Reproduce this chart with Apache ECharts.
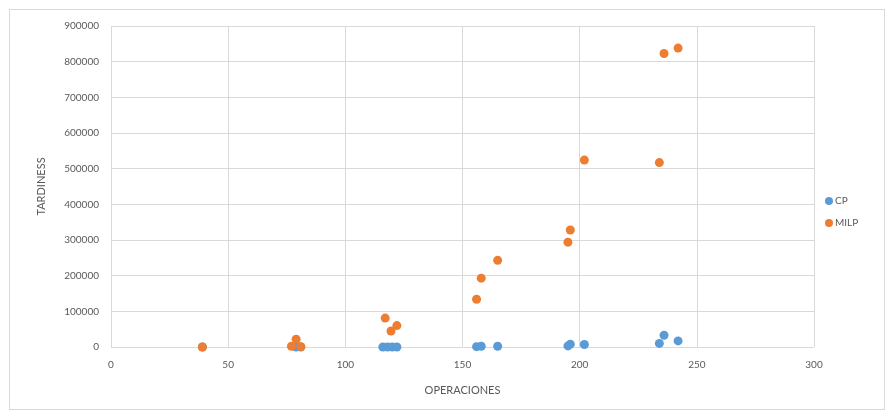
<!DOCTYPE html>
<html>
<head>
<meta charset="utf-8">
<script src="https://cdn.jsdelivr.net/npm/echarts@6/dist/echarts.min.js"></script>
<style>
html,body{margin:0;padding:0;background:#fff;}
#frame{position:absolute;left:9px;top:9px;width:876px;height:401px;border:1px solid #d9d9d9;box-sizing:border-box;}
#chart{position:absolute;left:0;top:0;width:893px;height:413px;}
</style>
</head>
<body>
<div id="frame"></div>
<div id="chart"></div>
<script>
// CP series
const cpX = [39, 79, 81, 116, 118, 120, 122, 156, 158, 165, 195, 196, 202, 234, 236, 242];
const cpY = [0, 0, 0, 0, 0, 0, 0, 1000, 2000, 2000, 3000, 8000, 7000, 10000, 33000, 17000];
// MILP series
const milpX = [39, 77, 79, 81, 117, 119.5, 122, 156, 158, 165, 195, 196, 202, 234, 236, 242];
const milpY = [0, 2000, 22000, 1000, 81000, 45000, 60000, 134000, 193000, 243000, 294000, 328000, 524000, 517000, 823000, 838000];
const seriesNames = ['CP', 'MILP'];
const xTicks = [0, 50, 100, 150, 200, 250, 300];
const yTicks = [0, 100000, 200000, 300000, 400000, 500000, 600000, 700000, 800000, 900000];

const zip = (a, b) => a.map((v, i) => [v, b[i]]);
const font = 'Lato, "Open Sans", sans-serif';
const chart = echarts.init(document.getElementById('chart'), null, {renderer: 'canvas'});
chart.setOption({
  animation: false,
  backgroundColor: 'transparent',
  grid: {left: 111, right: 79, top: 26, bottom: 66},
  legend: {
    orient: 'vertical', left: 820, top: 191, itemGap: 12,
    itemWidth: 8, itemHeight: 8, icon: 'circle',
    textStyle: {color: '#595959', fontSize: 10, fontFamily: font, padding: [0, 0, 0, -3]},
    data: seriesNames
  },
  xAxis: {
    type: 'value', min: xTicks[0], max: xTicks[xTicks.length - 1], interval: 50,
    name: 'OPERACIONES', nameLocation: 'middle', nameGap: 38,
    nameTextStyle: {color: '#595959', fontSize: 11, fontFamily: font},
    axisLine: {show: false}, axisTick: {show: false},
    axisLabel: {color: '#595959', fontSize: 10, fontFamily: font, margin: 13},
    splitLine: {show: true, lineStyle: {color: '#d9d9d9', width: 1}}
  },
  yAxis: {
    type: 'value', min: yTicks[0], max: yTicks[yTicks.length - 1], interval: 100000,
    name: 'TARDINESS', nameLocation: 'middle', nameGap: 64, nameRotate: 90,
    nameTextStyle: {color: '#595959', fontSize: 11, fontFamily: font},
    axisLine: {show: false}, axisTick: {show: false},
    axisLabel: {color: '#595959', fontSize: 10, fontFamily: font, margin: 12,
      formatter: v => String(v)},
    splitLine: {show: true, lineStyle: {color: '#d9d9d9', width: 1}}
  },
  series: [
    {name: seriesNames[0], type: 'scatter', symbol: 'circle', symbolSize: 9,
     itemStyle: {color: '#5B9BD5', opacity: 1}, data: zip(cpX, cpY)},
    {name: seriesNames[1], type: 'scatter', symbol: 'circle', symbolSize: 9,
     itemStyle: {color: '#ED7D31', opacity: 1}, data: zip(milpX, milpY)}
  ]
});
</script>
</body>
</html>
